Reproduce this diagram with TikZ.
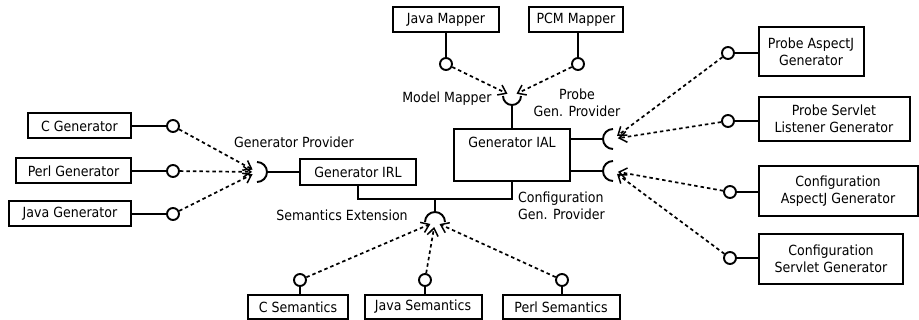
\documentclass[tikz,border=0pt]{standalone}
\usepackage{fontspec}
\setmainfont{DejaVu Sans Condensed}
\usetikzlibrary{arrows.meta,calc}
\newcommand\diagfont{\fontsize{14}{17.5}\selectfont}
\begin{document}
\begin{tikzpicture}[x=1pt,y=-1pt,
  comp/.style={draw, line width=2pt, fill=white, inner sep=0pt, align=center,
    minimum height=25pt, font=\diagfont},
  comp2/.style={comp, minimum height=50pt},
  lolli/.style={draw, circle, line width=1.9pt, fill=white, inner sep=0pt, minimum size=12pt},
  wire/.style={line width=1.9pt},
  sock/.style={line width=1.9pt},
  dep/.style={line width=1.7pt, dash pattern=on 3.5pt off 3pt,
    -{Straight Barb[length=7.5pt,width=11pt,line width=1.5pt]}, shorten >=5pt},
  lbl/.style={inner sep=0pt, font=\diagfont, align=center}
]
\useasboundingbox (0,0) rectangle (919,320);

% sockets (required interfaces)
\coordinate (gpS) at (257,172);
\coordinate (mmS) at (512,96);
\coordinate (prS) at (613,139);
\coordinate (cfS) at (613,171);
\coordinate (seS) at (435,222);
\coordinate (busJ) at (435,199);

% core components
\node[comp, minimum width=116pt, minimum height=26pt] (irl) at (358,172) {Generator IRL};
\node[comp, minimum width=116pt, minimum height=52pt] (ial) at (512,155) {};
\node[lbl] (ialT) at (512,142) {Generator IAL};

% generators on the left
\node[comp, minimum width=103pt, anchor=east] (cgen) at (132,126) {C Generator};
\node[comp, minimum width=115pt, anchor=east] (pgen) at (132,171) {Perl Generator};
\node[comp, minimum width=122pt, anchor=east] (jgen) at (132,214) {Java Generator};
\node[lolli] (cgenL) at (173,126) {};
\node[lolli] (pgenL) at (173,171) {};
\node[lolli] (jgenL) at (173,214) {};
\draw[wire] (cgen.east) -- (cgenL.west);
\draw[wire] (pgen.east) -- (pgenL.west);
\draw[wire] (jgen.east) -- (jgenL.west);

% mappers on top
\node[comp, minimum width=106pt] (jmap) at (446,20) {Java Mapper};
\node[comp, minimum width=94pt] (pcm) at (576,20) {PCM Mapper};
\node[lolli] (jmapL) at (446,64) {};
\node[lolli] (pcmL) at (578,64) {};
\draw[wire] (jmap.south) -- (jmapL.north);
\draw[wire] (pcm.south -| pcmL) -- (pcmL.north);

% generators on the right
\node[comp2, minimum width=105pt, minimum height=49pt] (pasp) at (811,52) {Probe AspectJ\\Generator};
\node[comp2, minimum width=151pt, minimum height=44pt] (psrv) at (834,119) {Probe Servlet\\Listener Generator};
\node[comp2, minimum width=159pt] (casp) at (838,191) {Configuration\\AspectJ Generator};
\node[comp2, minimum width=144pt] (csrv) at (831,259) {Configuration\\Servlet Generator};
\node[lolli] (paspL) at (728,53) {};
\node[lolli] (psrvL) at (728,121) {};
\node[lolli] (caspL) at (730,192) {};
\node[lolli] (csrvL) at (730,258) {};
\draw[wire] (paspL.east) -- (pasp.west |- paspL);
\draw[wire] (psrvL.east) -- (psrv.west |- psrvL);
\draw[wire] (caspL.east) -- (casp.west |- caspL);
\draw[wire] (csrvL.east) -- (csrv.west |- csrvL);

% semantics at the bottom
\node[comp, minimum width=100pt, minimum height=24pt] (csem) at (298,307) {C Semantics};
\node[comp, minimum width=117pt, minimum height=24pt] (jsem) at (423,307) {Java Semantics};
\node[comp, minimum width=117pt, minimum height=24pt] (psem) at (561,307) {Perl Semantics};
\node[lolli] (csemL) at (300,280) {};
\node[lolli] (jsemL) at (425,280) {};
\node[lolli] (psemL) at (562,280) {};
\draw[wire] (csemL.south) -- (csem.north -| csemL);
\draw[wire] (jsemL.south) -- (jsem.north -| jsemL);
\draw[wire] (psemL.south) -- (psem.north -| psemL);

% wiring of the core and socket shapes
\draw[wire] (irl.west) -- ($(gpS)+(10,0)$);
\draw[sock] ($(gpS)+(0,-10)$) arc[start angle=-90, end angle=90, radius=10];
\draw[wire] (ial.north -| mmS) -- ($(mmS)+(0,9)$);
\draw[sock] ($(mmS)+(-9,0)$) arc[start angle=180, end angle=0, radius=9];
\draw[wire] (ial.east |- prS) -- ($(prS)+(-10,0)$);
\draw[sock] ($(prS)+(0,-10)$) arc[start angle=-90, end angle=-270, radius=10];
\draw[wire] (ial.east |- cfS) -- ($(cfS)+(-10,0)$);
\draw[sock] ($(cfS)+(0,-10)$) arc[start angle=-90, end angle=-270, radius=10];
\draw[wire] (irl.south) |- (busJ) -| (ial.south);
\draw[wire] (busJ) -- ($(seS)+(0,-10)$);
\draw[sock] ($(seS)+(-10,0)$) arc[start angle=180, end angle=360, radius=10];

% dependencies
\draw[dep] (cgenL) -- (gpS);
\draw[dep] (pgenL) -- (gpS);
\draw[dep] (jgenL) -- (gpS);
\draw[dep] (jmapL) -- (mmS);
\draw[dep] (pcmL) -- (mmS);
\draw[dep] (paspL) -- (prS);
\draw[dep] (psrvL) -- (prS);
\draw[dep] (caspL) -- (cfS);
\draw[dep] (csrvL) -- (cfS);
\draw[dep] (csemL) -- (seS);
\draw[dep] (jsemL) -- (seS);
\draw[dep] (psemL) -- (seS);

% interface labels
\node[lbl] (gpT) at (294,142) {Generator Provider};
\node[lbl] (seT) at (342,215) {Semantics Extension};
\node[lbl] (mmT) at (447,99) {Model Mapper};
\node[lbl, align=center] (prT) at (577,103) {Probe\\Gen. Provider};
\node[lbl, align=left, anchor=west] (cfT) at (518,206) {Configuration\\Gen. Provider};
\end{tikzpicture}
\end{document}
